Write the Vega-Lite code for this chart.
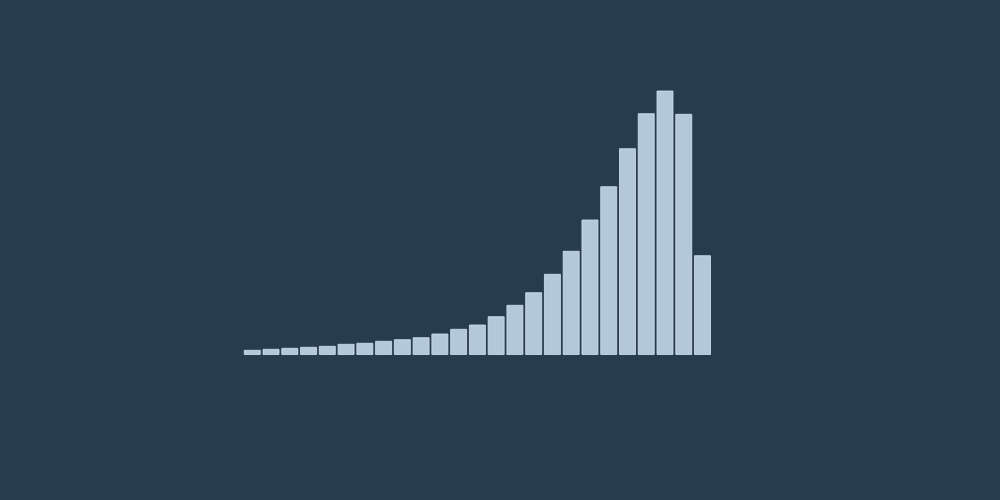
{
  "$schema": "https://vega.github.io/schema/vega-lite/v6.json",
  "autosize": {"type": "none"},
  "width": 469,
  "height": 300,
  "padding": {"left": 242.9, "top": 54.5, "right": 288, "bottom": 145.5},
  "background": "#283c4f",
  "config": {"view": {"stroke": null}},
  "data": {"values": [
    {"i": 1, "v": 4.2}, {"i": 2, "v": 5.2}, {"i": 3, "v": 6.2}, {"i": 4, "v": 7.2},
    {"i": 5, "v": 8.2}, {"i": 6, "v": 10.2}, {"i": 7, "v": 11.2}, {"i": 8, "v": 13.2},
    {"i": 9, "v": 14.8}, {"i": 10, "v": 16.8}, {"i": 11, "v": 20.5}, {"i": 12, "v": 25.2},
    {"i": 13, "v": 29.5}, {"i": 14, "v": 37.8}, {"i": 15, "v": 49.2}, {"i": 16, "v": 61.8},
    {"i": 17, "v": 80.2}, {"i": 18, "v": 103.2}, {"i": 19, "v": 134.5}, {"i": 20, "v": 167.8},
    {"i": 21, "v": 205.8}, {"i": 22, "v": 240.8}, {"i": 23, "v": 263.5}, {"i": 24, "v": 240.2},
    {"i": 25, "v": 98.8}
  ]},
  "mark": {"type": "bar", "fill": "#b3c9da", "stroke": "#d3e2ee", "strokeWidth": 1, "strokeOpacity": 0.8},
  "encoding": {
    "x": {"field": "i", "type": "ordinal", "axis": null,
          "scale": {"paddingInner": 0.147, "paddingOuter": 0.0735}},
    "y": {"field": "v", "type": "quantitative", "axis": null,
          "scale": {"domain": [0, 300], "nice": false}}
  }
}
